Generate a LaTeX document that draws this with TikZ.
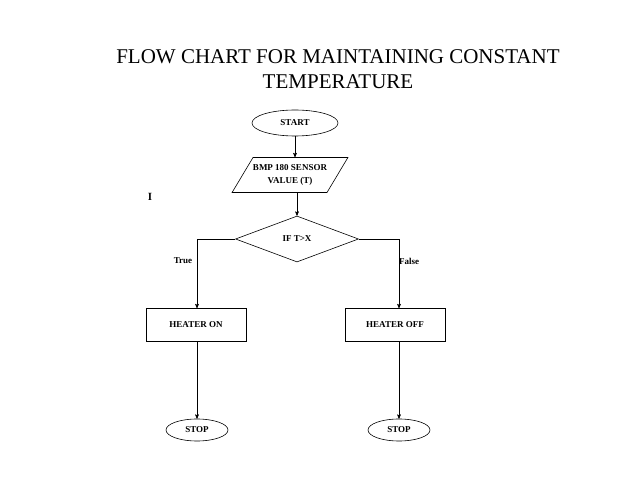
\documentclass[tikz,border=0pt]{standalone}
\usepackage{fontspec}
\setmainfont{Liberation Serif}
\usetikzlibrary{arrows,calc,positioning,shapes.geometric}
\tikzset{
flow/.style={>=stealth',x=1pt,y=-1pt,semithick},
term/.style={ellipse,draw,inner sep=0pt,font=\bfseries\fontsize{9}{10}\selectfont},
proc/.style={rectangle,draw,minimum width=100pt,minimum height=33pt,font=\bfseries\fontsize{9}{10}\selectfont},
io/.style={trapezium,trapezium left angle=45,trapezium right angle=135,draw,
    trapezium stretches body,minimum width=104pt,minimum height=35pt,inner sep=0pt,
    align=center,font=\bfseries\fontsize{9}{13}\selectfont},
test/.style={diamond,draw,minimum width=123pt,minimum height=46pt,inner sep=0pt,
    font=\bfseries\fontsize{9}{10}\selectfont},
lbl/.style={font=\bfseries\fontsize{9}{10}\selectfont},
}
\begin{document}
\begin{tikzpicture}[flow]
    \useasboundingbox (0,0) rectangle (638,478);

    \node[align=center,font=\fontsize{21}{25}\selectfont] (title) at (338,69)
        {FLOW CHART FOR MAINTAINING CONSTANT\\TEMPERATURE};
    \node[term,minimum width=86pt,minimum height=26pt] (start) at (295,123) {START};
    \node[io] (sensor) at (290,175) {BMP 180 SENSOR\\VALUE (T)};
    \node[test] (cond) at (297,239) {IF T>X};
    \node[proc] (on) at (196,325) {HEATER ON};
    \node[proc] (off) at (395,325) {HEATER OFF};
    \node[term,minimum width=62pt,minimum height=22pt] (stop1) at (197,430) {STOP};
    \node[term,minimum width=62pt,minimum height=22pt] (stop2) at (399,430) {STOP};
    \node[font=\bfseries\fontsize{11}{12}\selectfont] (mark) at (150,197) {I};
    \node[lbl] (t) at (183,261) {True};
    \node[lbl] (f) at (409,261) {False};

    \draw[->] (start) -- (start |- sensor.north);
    \draw[->] (sensor.south -| cond) -- (cond.north);
    \draw[->] (cond.west) -| (stop1 |- on.north);
    \draw[->] (cond.east) -| (stop2 |- off.north);
    \draw[->] (stop1 |- on.south) -- (stop1);
    \draw[->] (stop2 |- off.south) -- (stop2);
\end{tikzpicture}
\end{document}
